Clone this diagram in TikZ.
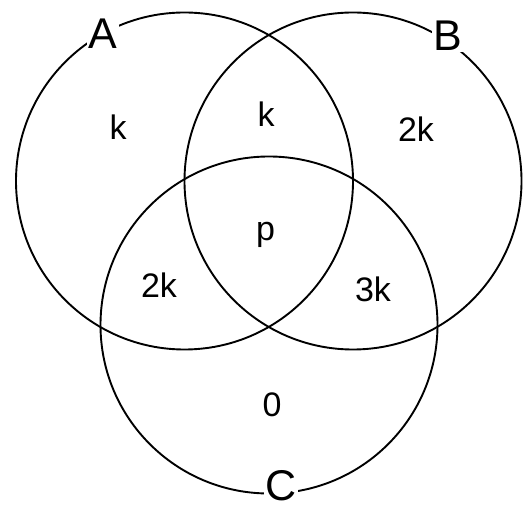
\documentclass[tikz,border=0pt]{standalone}
\usepackage{fontspec}
\setmainfont{Liberation Sans}
\begin{document}
\begin{tikzpicture}[x=1pt,y=-1pt,
  ring/.style={draw=black, line width=1.9pt, circle, minimum size=337pt, inner sep=0pt},
  setlabel/.style={fill=white, inner sep=1.5pt, font=\fontsize{43}{43}\selectfont},
  count/.style={anchor=base, inner sep=0pt, font=\fontsize{34}{34}\selectfont}]
\useasboundingbox (0,0) rectangle (530,510);
\node[ring] (cA) at (184.5,181) {};
\node[ring] (cB) at (353,181) {};
\node[ring] (cC) at (269,325) {};
\node[setlabel] (lA) at (103,34) {A};
\node[setlabel] (lB) at (448,36) {B};
\node[setlabel] (lC) at (281,486) {C};
\node[count] (nA) at (118,140) {k};
\node[count] (nAB) at (266,127) {k};
\node[count] (nB) at (416,142) {2k};
\node[count] (nABC) at (265.5,241) {p};
\node[count] (nAC) at (159,298) {2k};
\node[count] (nBC) at (373,302) {3k};
\node[count] (nC) at (272,417) {0};
\end{tikzpicture}
\end{document}
